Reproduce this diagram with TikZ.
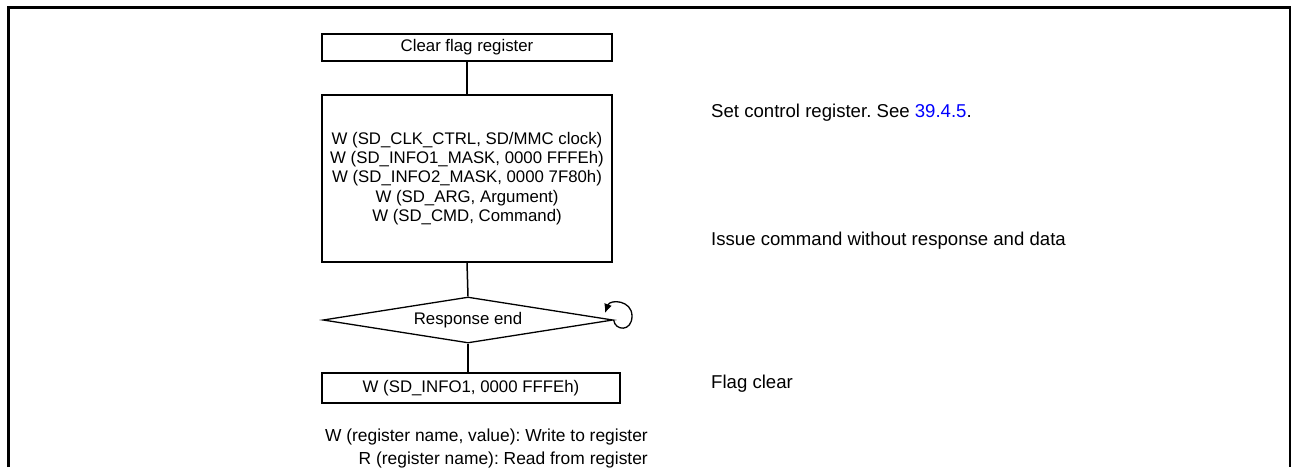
\documentclass[tikz,border=0pt]{standalone}
\usepackage{fontspec}
\setmainfont{Liberation Sans}
\usetikzlibrary{shapes.geometric,arrows.meta}
\frenchspacing
\tikzset{
  txt/.style={font=\fontsize{16.8}{19.3}\selectfont},
  procbox/.style={draw, line width=1.3pt, txt, inner sep=0pt, align=center},
  decbox/.style={draw, diamond, line width=1.3pt, txt, inner sep=0pt, aspect=6.3, minimum width=290pt, minimum height=46pt},
  conn/.style={line width=1.5pt},
  note/.style={font=\fontsize{18.6}{21}\selectfont, inner sep=0pt, anchor=base west},
  legend/.style={font=\fontsize{17.4}{20}\selectfont, inner sep=0pt, anchor=base east}
}
\begin{document}
\begin{tikzpicture}[x=1pt,y=-1pt]
\useasboundingbox (0,0) rectangle (1291,467);
% frame
\draw[line width=3pt] (8.5,467) -- (8.5,7.5) -- (1291,7.5);
\draw[line width=1.2pt] (1290,6) -- (1290,467);
% nodes
\node[procbox, minimum width=290pt, minimum height=27pt] (clear) at (467,47.5) {Clear flag register};
\node[procbox, minimum width=290pt, minimum height=167pt] (set) at (467,178.5) {W (SD\_CLK\_CTRL, SD/MMC clock)\\W (SD\_INFO1\_MASK, 0000 FFFEh)\\W (SD\_INFO2\_MASK, 0000 7F80h)\\W (SD\_ARG, Argument)\\W (SD\_CMD, Command)};
\node[decbox] (resp) at (468,320) {Response end};
\node[procbox, minimum width=298pt, minimum height=30pt] (flag) at (471,388) {W (SD\_INFO1, 0000 FFFEh)};
% connectors
\draw[conn] (clear.south) -- (set.north);
\draw[conn] (set.south) -- (resp.north);
\draw[conn] (resp.south) -- (resp.south |- flag.north);
\coordinate (loopend) at (605,313);
\draw[line width=1.3pt, -{Latex[length=9pt,width=8pt]}] (resp.east) .. controls (615,331) and (632,332) .. (632,316) .. controls (632,300) and (610,299) .. (loopend);
% notes
\node[note] (n1) at (711,117) {Set control register. See \textcolor{blue}{39.4.5}.};
\node[note] (n2) at (711,245) {Issue command without response and data};
\node[note] (n3) at (711,388) {Flag clear};
% legend
\node[legend] (lw) at (648,441.5) {W (register name, value): Write to register};
\node[legend] (lr) at (648,464.5) {R (register name): Read from register};
\end{tikzpicture}
\end{document}
